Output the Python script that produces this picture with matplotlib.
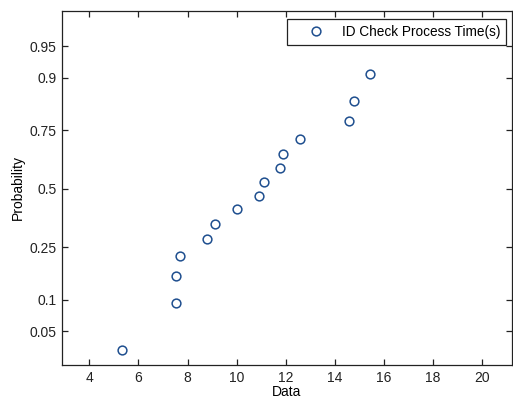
import numpy as np
import matplotlib
matplotlib.use("Agg")
import matplotlib.pyplot as plt
from statistics import NormalDist

plt.rcParams['font.family'] = ['Liberation Sans', 'DejaVu Sans']

# Sorted observations (seconds)
process_time = [5.33, 7.51, 7.51, 7.70, 8.79, 9.11, 10.01, 10.90, 11.10,
                11.77, 11.90, 12.57, 14.59, 14.76, 15.41, 17.20]
series_label = "ID Check Process Time(s)"
prob_ticks = [0.05, 0.1, 0.25, 0.5, 0.75, 0.9, 0.95]
prob_tick_labels = ["0.05", "0.1", "0.25", "0.5", "0.75", "0.9", "0.95"]
x_ticks = [4, 6, 8, 10, 12, 14, 16, 18, 20]

n = len(process_time)
plot_pos = [(i - 0.5) / n for i in range(1, n + 1)]

_nd = NormalDist()


def _fwd(p):
    p = np.clip(np.asarray(p, dtype=float), 1e-9, 1 - 1e-9)
    return np.array([_nd.inv_cdf(v) for v in p.ravel()]).reshape(p.shape)


def _inv(z):
    z = np.asarray(z, dtype=float)
    return np.array([_nd.cdf(v) for v in z.ravel()]).reshape(z.shape)


fig = plt.figure(figsize=(5.13, 4.0), dpi=100)
fig.patch.set_facecolor("white")
ax = fig.add_axes([0.121, 0.0875, 0.8765, 0.8855])
ax.set_yscale("function", functions=(_fwd, _inv))

ax.plot(process_time, plot_pos, linestyle="none", marker="o", markersize=6.3,
        markerfacecolor="none", markeredgecolor="#1f4f8f", markeredgewidth=1.1,
        label=series_label, zorder=3)

ax.set_xlim(2.89, 21.2)
ax.set_ylim(_nd.cdf(-2.032), _nd.cdf(2.052))
ax.set_xticks(x_ticks)
ax.set_xticklabels([str(t) for t in x_ticks])
ax.set_yticks(prob_ticks)
ax.set_yticklabels(prob_tick_labels)
ax.yaxis.set_minor_locator(matplotlib.ticker.NullLocator())
ax.xaxis.set_minor_locator(matplotlib.ticker.NullLocator())

ax.tick_params(direction="in", length=4.5, width=0.9, colors="#222222",
               labelsize=10, top=True, right=True, pad=4)
for s in ax.spines.values():
    s.set_color("#222222")
    s.set_linewidth(0.9)

ax.set_xlabel("Data", fontsize=10, labelpad=0)
ax.set_ylabel("Probability", fontsize=10, labelpad=3)

leg = ax.legend(loc="upper right", fontsize=9.8, frameon=True, fancybox=False,
                framealpha=1.0, edgecolor="#222222", borderpad=0.42,
                borderaxespad=0.0, handlelength=3.5, handletextpad=0.12,
                bbox_to_anchor=(0.9873, 0.9766))
leg.get_frame().set_linewidth(0.9)
leg.set_zorder(10)

fig.savefig("out.png", dpi=100, facecolor="white")
